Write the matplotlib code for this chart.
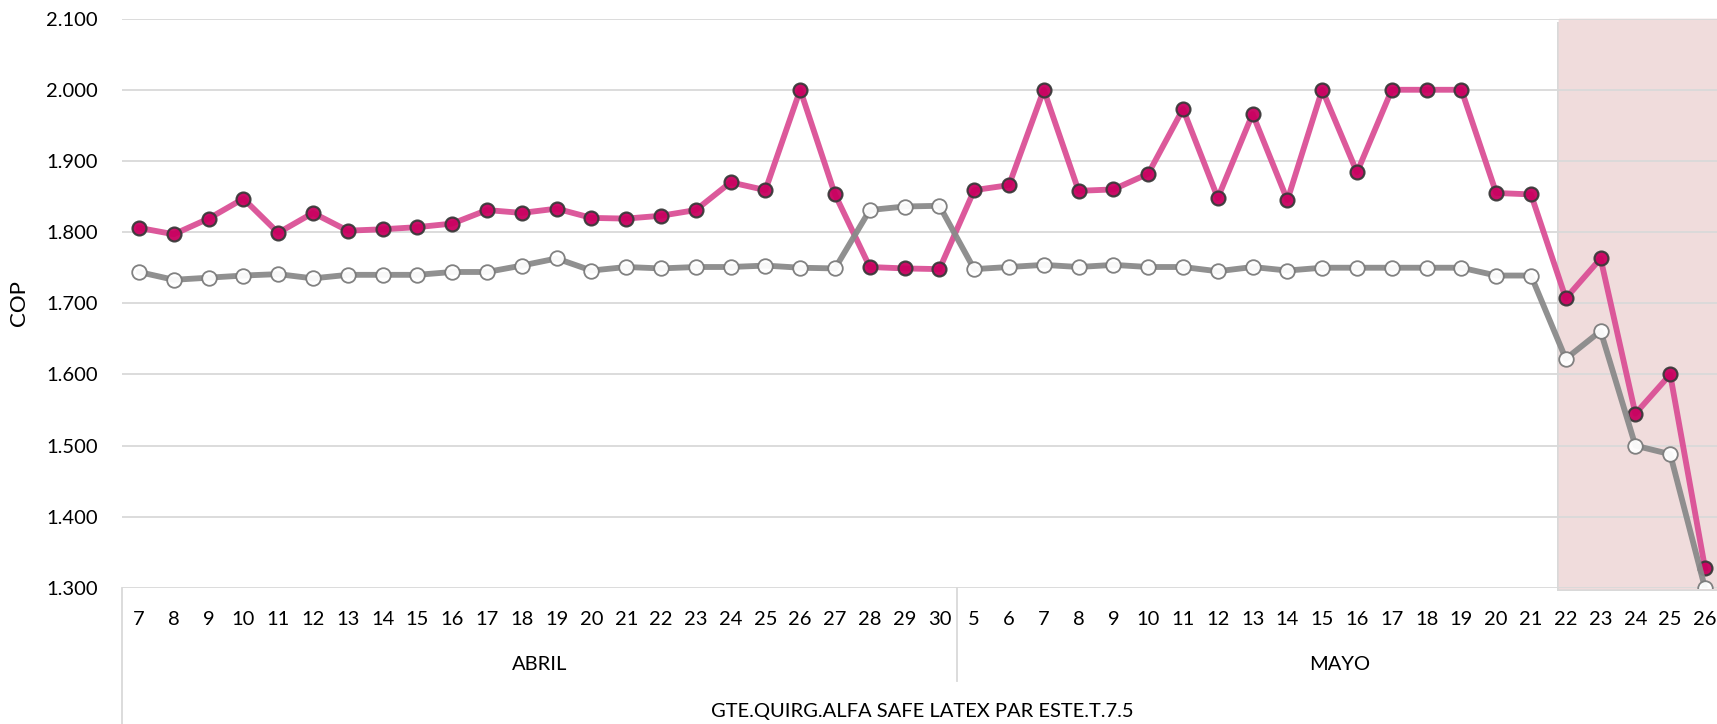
import numpy as np
import matplotlib
matplotlib.use("Agg")
import matplotlib.pyplot as plt
import matplotlib.patheffects as pe
from matplotlib.transforms import blended_transform_factory

plt.rcParams['font.family'] = ['Lato', 'DejaVu Sans']

# categories
abril_days = [7, 8, 9, 10, 11, 12, 13, 14, 15, 16, 17, 18, 19, 20, 21, 22, 23, 24, 25, 26, 27, 28, 29, 30]
mayo_days = [5, 6, 7, 8, 9, 10, 11, 12, 13, 14, 15, 16, 17, 18, 19, 20, 21, 22, 23, 24, 25, 26]
months = ["ABRIL", "MAYO"]
group_label = "GTE.QUIRG.ALFA SAFE LATEX PAR ESTE.T.7.5"

# series (pink = filled markers, gray = hollow markers)
pink_abril = [1.806, 1.797, 1.819, 1.847, 1.799, 1.827, 1.802, 1.804, 1.807, 1.812, 1.831, 1.827,
              1.833, 1.820, 1.819, 1.823, 1.831, 1.870, 1.859, 2.000, 1.853, 1.751, 1.749, 1.748]
pink_mayo = [1.859, 1.866, 2.000, 1.858, 1.860, 1.882, 1.973, 1.848, 1.966, 1.845, 2.000,
             1.884, 2.000, 2.000, 2.000, 1.855, 1.853, 1.707, 1.763, 1.545, 1.600, 1.328]
gray_abril = [1.744, 1.733, 1.736, 1.739, 1.741, 1.735, 1.740, 1.740, 1.740, 1.744, 1.744, 1.753,
              1.763, 1.746, 1.751, 1.749, 1.751, 1.751, 1.753, 1.750, 1.749, 1.831, 1.836, 1.837]
gray_mayo = [1.748, 1.751, 1.754, 1.751, 1.754, 1.751, 1.751, 1.745, 1.751, 1.746, 1.750,
             1.750, 1.750, 1.750, 1.750, 1.739, 1.739, 1.622, 1.661, 1.500, 1.488, 1.300]

# highlighted window starts just before May 22
shade_start = 40.8

days = abril_days + mayo_days
pink = pink_abril + pink_mayo
gray = gray_abril + gray_mayo
x = np.arange(len(days))

fig = plt.figure(figsize=(17.17, 7.24), dpi=100)
ax = fig.add_axes([121.6 / 1717, 1 - 588 / 724, 1600.8 / 1717, 569.4 / 724])

span = ax.axvspan(shade_start, len(days) + 1, color='#f0dcdc', zorder=0.2, clip_on=False)
span.set_path_effects([pe.withSimplePatchShadow(offset=(-1.5, -2.5), shadow_rgbFace='#a0a0a0', alpha=0.4), pe.Normal()])

ax.plot(x, pink, color='#da5096', lw=4.2, alpha=0.95, zorder=3,
        marker='o', ms=10, mfc='#c8005f', mec='#3a3a3a', mew=1.6)
ax.plot(x, gray, color='#8a8a8a', lw=4.2, alpha=0.95, zorder=4,
        marker='o', ms=10.5, mfc=(1, 1, 1, 0.7), mec='#7a7a7a', mew=1.3)

ax.set_xlim(-0.5, len(days) - 0.5)
ax.set_ylim(1.3, 2.1)
ax.set_yticks(np.arange(1.3, 2.1001, 0.1))
ax.set_yticklabels(['{:.3f}'.format(v) for v in np.arange(1.3, 2.1001, 0.1)])
ax.set_xticks(x)
ax.set_xticklabels([str(d) for d in days])
ax.tick_params(axis='both', length=0, labelsize=14.5, colors='black')
ax.tick_params(axis='y', pad=17)
ax.tick_params(axis='x', pad=23)
plt.setp(ax.get_xticklabels(), va='center')

ax.grid(axis='y', color='#d9d9d9', lw=1.3)
ax.set_axisbelow(True)
for s in ax.spines.values():
    s.set_visible(False)

ax.set_ylabel('COP', fontsize=16)
ax.yaxis.set_label_coords((29 - 121.6) / 1600.8, 0.5)

tr = blended_transform_factory(ax.transData, ax.transAxes)
h = 569.4
ax.plot([-0.5, -0.5], [0, -(724 - 588) / h], color='#d9d9d9', lw=1.3, transform=tr, clip_on=False)
n_ab = len(abril_days)
ax.plot([n_ab - 0.5, n_ab - 0.5], [0, -(681 - 588) / h], color='#d9d9d9', lw=1.3, transform=tr, clip_on=False)

ax.text((n_ab - 1) / 2, -(665 - 588) / h, months[0], transform=tr, ha='center', va='center', fontsize=14.5)
ax.text(n_ab + (len(mayo_days) - 1) / 2, -(665 - 588) / h, months[1], transform=tr, ha='center', va='center', fontsize=14.5)
ax.text((len(days) - 1) / 2, -(712 - 588) / h, group_label, transform=tr, ha='center', va='center', fontsize=14.5)

fig.savefig('out.png', dpi=100)
